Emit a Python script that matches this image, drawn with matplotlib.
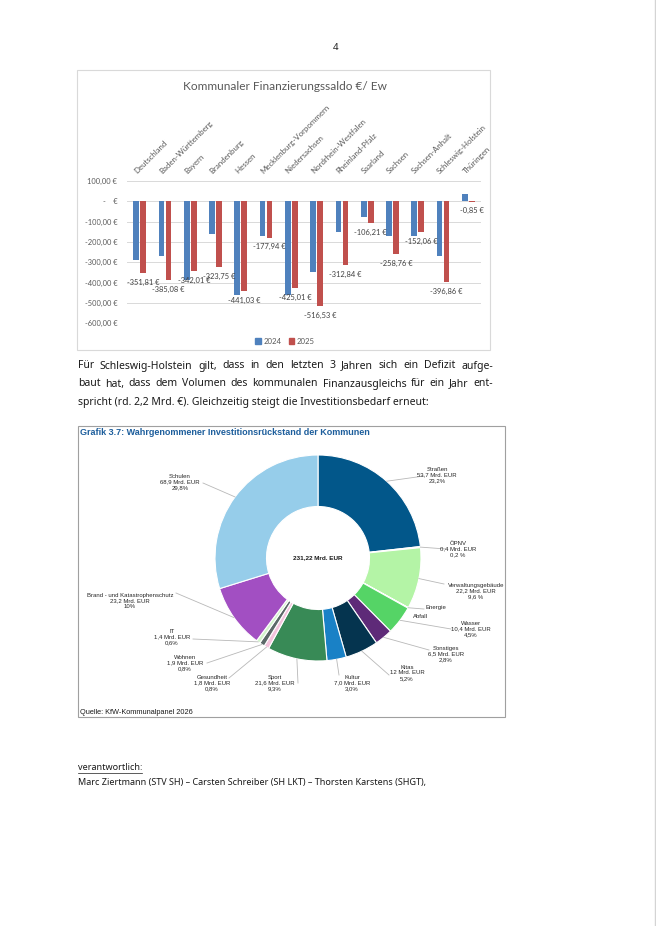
import numpy as np
import matplotlib
matplotlib.use("Agg")
import matplotlib.pyplot as plt
import matplotlib.transforms as mtransforms
from matplotlib.patches import Rectangle, Patch
from matplotlib.lines import Line2D

W, H = 656, 926  # page size in px (dpi 100)

# --- bar chart data: Kommunaler Finanzierungssaldo EUR je Einwohner ---
laender = ["Deutschland", "Baden-Württemberg", "Bayern", "Brandenburg", "Hessen",
           "Mecklenburg-Vorpommern", "Niedersachsen", "Nordrhein-Westfalen",
           "Rheinland-Pfalz", "Saarland", "Sachsen", "Sachsen-Anhalt",
           "Schleswig-Holstein", "Thüringen"]
saldo_2024 = [-288, -267, -385, -162, -461, -169, -461, -346, -152, -79, -169, -169, -270, 36]
saldo_2025 = [-351.81, -385.08, -342.01, -323.75, -441.03, -177.94, -425.01, -516.53,
              -312.84, -106.21, -258.76, -152.06, -396.86, -0.85]
y_ticks = [100, 0, -100, -200, -300, -400, -500, -600]

# --- donut data: Investitionsrückstand (Mrd. EUR) ---
bereiche = ["Straßen", "ÖPNV", "Verwaltungsgebäude", "Energie", "Abfall", "Wasser",
            "Sonstiges", "Kitas", "Kultur", "Sport", "Gesundheit", "Wohnen", "IT",
            "Brand - und Katastrophenschutz", "Schulen"]
rueckstand = [53.7, 0.4, 22.2, 0.1, 0.1, 10.4, 6.5, 12.0, 7.0, 21.6, 1.8, 1.9, 1.4, 23.2, 68.9]
betrag_txt = ["53,7 Mrd. EUR", "0,4 Mrd. EUR", "22,2 Mrd. EUR", "", "", "10,4 Mrd. EUR",
              "6,5 Mrd. EUR", "12 Mrd. EUR", "7,0 Mrd. EUR", "21,6 Mrd. EUR", "1,8 Mrd. EUR",
              "1,9 Mrd. EUR", "1,4 Mrd. EUR", "23,2 Mrd. EUR", "68,9 Mrd. EUR"]
anteil_txt = ["23,2%", "0,2 %", "9,6 %", "", "", "4,5%", "2,8%", "5,2%", "3,0%", "9,3%",
              "0,8%", "0,8%", "0,6%", "10%", "29,8%"]
gesamt_txt = "231,22 Mrd. EUR"

farben = ["#02578a", "#dff3da", "#b4f4a6", "#8fe38a", "#7ad97a", "#55d466", "#5e2a78",
          "#05344f", "#1981c6", "#388a56", "#f3c3dc", "#5c6868", "#d3f4cc", "#a24fc2",
          "#96cdea"]

# label layout for donut (text centre px, leader end px)
label_pos = [(437, 475), (458, 549), (476, 591), (436, 608), (420, 617), (471, 629),
             (446, 654), (407, 673), (352, 683), (275, 683), (212, 683), (185, 663),
             (172, 637), (130, 601), (180, 482)]
leader_end = [(424, 476), (446, 549), (444, 584), (424, 609), None, (451, 629),
              (429, 650), (389, 675), (339, 675), (298, 683), (229, 678), (207, 663),
              (193, 639), (176, 593), (203, 483)]

body_lines = [
    "Für Schleswig-Holstein gilt, dass in den letzten 3 Jahren sich ein Defizit aufge-",
    "baut hat, dass dem Volumen des kommunalen Finanzausgleichs für ein Jahr ent-",
    "spricht (rd. 2,2 Mrd. €). Gleichzeitig steigt die Investitionsbedarf erneut:",
]


def fx(x):
    return x / W


def fy(y):
    return 1 - y / H


fig = plt.figure(figsize=(W / 100, H / 100), dpi=100)
fig.patch.set_facecolor("white")
renderer = fig.canvas.get_renderer()

# page number + right page edge
fig.text(fx(336), fy(47), "4", ha="center", va="center", fontsize=7, family="Noto Sans",
         color="#222222")
fig.add_artist(Line2D([fx(655), fx(655)], [0, 1], color="#d4d4d4", lw=1.0,
                      transform=fig.transFigure))

# ---------------- bar chart ----------------
frame1 = Rectangle((fx(77), fy(350)), fx(490) - fx(77), fy(70) - fy(350),
                   transform=fig.transFigure, fill=False, ec="#d9d9d9", lw=0.8)
fig.add_artist(frame1)
fig.text(fx(285), fy(87), "Kommunaler Finanzierungssaldo €/ Ew", ha="center", va="center",
         fontsize=8.6, family="Lato", color="#595959")

ax = fig.add_axes([fx(127), fy(323.3), fx(481) - fx(127), fy(181) - fy(323.3)])
x = np.arange(len(laender))
bw = 0.225
ax.bar(x - 0.14, saldo_2024, bw, color="#4f81bd", label="2024", zorder=2)
ax.bar(x + 0.14, saldo_2025, bw, color="#c0504d", label="2025", zorder=2)
ax.set_xlim(-0.5, len(laender) - 0.5)
ax.set_ylim(-600, 100)
ax.set_yticks(y_ticks)


def euro(v):
    if v == 0:
        return "-    €"
    return f"{v:.2f} €".replace(".", ",")


ax.set_yticklabels([euro(v) for v in y_ticks], family="Lato", fontsize=5.4, color="#595959")
ax.tick_params(axis="y", length=0, pad=7)
ax.set_xticks([])
ax.grid(axis="y", color="#d9d9d9", lw=0.7, zorder=0)
for s in ax.spines.values():
    s.set_visible(False)
ax.patch.set_alpha(0)

for i, v in enumerate(saldo_2025):
    ax.annotate(f"{v:.2f} €".replace(".", ","), (i + 0.14, v), xytext=(0, -6.8),
                textcoords="offset points", ha="center", va="center", fontsize=5.4,
                family="Lato", color="#404040", zorder=3)

lab_tr = mtransforms.offset_copy(ax.transData, fig=fig, x=-2, y=6, units="dots")
for i, name in enumerate(laender):
    t = ax.text(i, 100, name, transform=lab_tr, rotation=45, rotation_mode="anchor",
                ha="left", va="bottom", fontsize=5.7, family="Lato", color="#595959")
    t.set_clip_path(frame1)
    t.set_clip_on(True)

ax.legend(handles=[Patch(color="#4f81bd", label="2024"), Patch(color="#c0504d", label="2025")],
          loc="center", bbox_to_anchor=(fx(285), fy(341)), bbox_transform=fig.transFigure,
          ncol=2, frameon=False, handlelength=0.7, handleheight=0.7, handletextpad=0.3,
          columnspacing=1.0, prop={"family": "Lato", "size": 5.6}, labelcolor="#595959")

# ---------------- body text ----------------
body_kw = dict(fontsize=7.5, family="Noto Sans", color="#1a1a1a", va="center", ha="left")


def justified(line, y, x0, x1):
    words = line.split(" ")
    texts = [fig.text(0, fy(y), w, **body_kw) for w in words]
    widths = [t.get_window_extent(renderer).width for t in texts]
    gap = (x1 - x0 - sum(widths)) / (len(words) - 1)
    xpos = x0
    for t, w in zip(texts, widths):
        t.set_x(fx(xpos))
        xpos += w + gap


justified(body_lines[0], 366, 78, 493)
justified(body_lines[1], 384, 78, 493)
fig.text(fx(78), fy(402), body_lines[2], **body_kw)

# ---------------- donut chart ----------------
frame2 = Rectangle((fx(78), fy(717)), fx(505) - fx(78), fy(426) - fy(717),
                   transform=fig.transFigure, fill=False, ec="#a0a0a0", lw=0.8)
fig.add_artist(frame2)
fig.text(fx(80), fy(432), "Grafik 3.7: Wahrgenommener Investitionsrückstand der Kommunen",
         ha="left", va="center", fontsize=6.5, weight="bold", family="Liberation Sans",
         color="#1d5e9c")
fig.text(fx(80), fy(713), "Quelle: KfW-Kommunalpanel 2026", ha="left", va="center",
         fontsize=5.3, family="Liberation Sans", color="#1a1a1a")

cx, cy, R = 318, 558, 103
pax = fig.add_axes([fx(cx - R), fy(cy + R), 2 * R / W, 2 * R / H])
pax.pie(rueckstand, colors=farben, startangle=90, counterclock=False, radius=1,
        wedgeprops=dict(width=0.5, edgecolor="white", linewidth=0.8))
pax.set_xlim(-1, 1)
pax.set_ylim(-1, 1)
pax.set_aspect("equal")
pax.axis("off")
fig.text(fx(cx), fy(cy), gesamt_txt, ha="center", va="center", fontsize=4.6,
         weight="bold", family="Liberation Sans", color="#1a1a1a")

total = sum(rueckstand)
cum = 0.0
for i, name in enumerate(bereiche):
    mid = cum + rueckstand[i] / 2
    cum += rueckstand[i]
    ang = np.deg2rad(90 - 360 * mid / total)
    sx, sy = cx + R * np.cos(ang), cy - R * np.sin(ang)
    if leader_end[i] is not None:
        ex, ey = leader_end[i]
        fig.add_artist(Line2D([fx(sx), fx(ex)], [fy(sy), fy(ey)], color="#b8b8b8", lw=0.6,
                              transform=fig.transFigure))
    txt = "\n".join(s for s in [name, betrag_txt[i], anteil_txt[i]] if s)
    tx, ty = label_pos[i]
    fig.text(fx(tx), fy(ty), txt, ha="center", va="center", fontsize=4.3,
             family="Liberation Sans", color="#262626", linespacing=1.15)

# ---------------- footer ----------------
foot_kw = dict(fontsize=6.5, family="Noto Sans", color="#1a1a1a", va="center", ha="left")
t = fig.text(fx(78), fy(768), "verantwortlich:", **foot_kw)
bb = t.get_window_extent(renderer)
fig.add_artist(Line2D([fx(bb.x0), fx(bb.x1)], [(bb.y0 - 0.5) / H] * 2, color="#1a1a1a",
                      lw=0.5, transform=fig.transFigure))
fig.text(fx(78), fy(783),
         "Marc Ziertmann (STV SH) – Carsten Schreiber (SH LKT) – Thorsten Karstens (SHGT),",
         **foot_kw)

fig.savefig("out.png", dpi=100, facecolor="white")
